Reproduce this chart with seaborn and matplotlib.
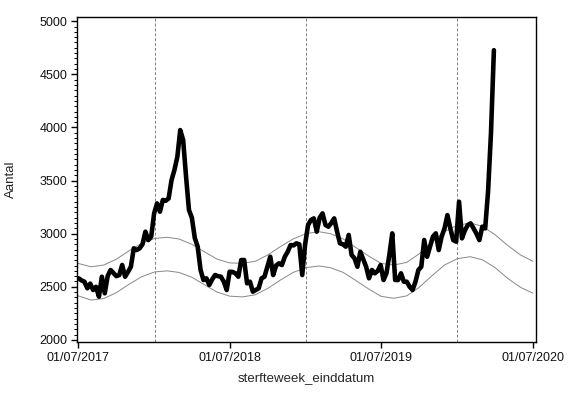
import pandas as pd
import matplotlib
matplotlib.use("Agg")
import matplotlib.pyplot as plt
import matplotlib.dates as mdates
from matplotlib.ticker import MultipleLocator
import seaborn as sns

# weekly deaths, week ending dates starting 2017-07-02
first_week = "2017-07-02"
deaths = [
    2580, 2560, 2548, 2486, 2530, 2470, 2500, 2407, 2595, 2439,
    2600, 2658, 2630, 2600, 2611, 2705, 2595, 2640, 2689, 2862,
    2846, 2862, 2900, 3019, 2940, 2972, 3191, 3285, 3207, 3317,
    3310, 3332, 3505, 3600, 3724, 3975, 3881, 3536, 3223, 3150,
    2960, 2878, 2658, 2564, 2580, 2517, 2570, 2611, 2600, 2595,
    2548, 2470, 2642, 2640, 2627, 2595, 2752, 2752, 2533, 2548,
    2454, 2470, 2486, 2580, 2595, 2689, 2783, 2611, 2700, 2721,
    2705, 2783, 2830, 2893, 2890, 2909, 2900, 2611, 2900, 3080,
    3129, 3144, 3019, 3150, 3191, 3082, 3066, 3100, 3144, 3019,
    2909, 2900, 2878, 2988, 2800, 2768, 2689, 2830, 2760, 2689,
    2580, 2658, 2627, 2650, 2705, 2564, 2627, 2800, 3003, 2564,
    2564, 2627, 2548, 2548, 2500, 2470, 2548, 2658, 2689, 2940,
    2783, 2878, 2972, 3003, 2846, 2972, 3050, 3175, 3050, 2940,
    2925, 3301, 2956, 3030, 3082, 3097, 3050, 3000, 2940, 3066,
    3050, 3400, 3950, 4727,
]

# expected band, read monthly (1st of month) from 2017-07 to 2020-07
band_start = "2017-07-01"
upper = [
    2720, 2688, 2705, 2760, 2840, 2910, 2955, 2966, 2950, 2900,
    2830, 2760, 2725, 2721, 2740, 2800, 2880, 2950, 3000, 3019,
    3000, 2950, 2870, 2790, 2720, 2705, 2730, 2810, 2920, 3020,
    3080, 3100, 3070, 2990, 2890, 2800, 2740,
]
lower = [
    2415, 2375, 2390, 2445, 2525, 2595, 2640, 2650, 2635, 2590,
    2520, 2450, 2412, 2405, 2425, 2485, 2565, 2635, 2680, 2696,
    2680, 2635, 2560, 2480, 2410, 2392, 2415, 2495, 2605, 2705,
    2765, 2783, 2755, 2680, 2580, 2495, 2440,
]
year_marks = ["2018-01-01", "2019-01-01", "2020-01-01"]
tick_dates = ["2017-07-01", "2018-07-01", "2019-07-01", "2020-07-01"]

weekly = pd.DataFrame({
    "sterfteweek_einddatum": pd.date_range(first_week, periods=len(deaths), freq="W"),
    "Aantal": deaths,
})
band = pd.DataFrame({
    "datum": pd.date_range(band_start, periods=len(upper), freq="MS"),
    "upper": upper,
    "lower": lower,
})

sns.set_style("ticks")
plt.rcParams["font.family"] = ["Liberation Sans", "DejaVu Sans"]

fig = plt.figure(figsize=(5.7, 3.99), dpi=100)
ax = fig.add_axes([0.135, 0.143, 0.805, 0.814])

for d in year_marks:
    ax.axvline(pd.Timestamp(d), color="#808080", lw=0.7, ls=(0, (3, 2)), zorder=1)

sns.lineplot(data=band, x="datum", y="upper", ax=ax, color="#888888", lw=0.7)
sns.lineplot(data=band, x="datum", y="lower", ax=ax, color="#888888", lw=0.7)
sns.lineplot(data=weekly, x="sterfteweek_einddatum", y="Aantal", ax=ax,
             color="black", lw=3.3)
ax.lines[-1].set_solid_joinstyle("round")
ax.lines[-1].set_solid_capstyle("round")

ax.set_xlim(pd.Timestamp("2017-06-28"), pd.Timestamp("2020-07-08"))
ax.set_ylim(1981, 5038)
ax.yaxis.set_major_locator(MultipleLocator(500))
ax.yaxis.set_minor_locator(MultipleLocator(50))
ax.set_xticks([pd.Timestamp(d) for d in tick_dates])
ax.xaxis.set_major_formatter(mdates.DateFormatter("%d/%m/%Y"))

for s in ax.spines.values():
    s.set_visible(True)
    s.set_color("black")
    s.set_linewidth(1.0)

ax.tick_params(axis="both", which="major", direction="out", length=4, width=1,
               color="black", labelsize=9, labelcolor="#111111", pad=3)
ax.tick_params(axis="y", which="minor", direction="out", length=2, width=0.7, color="black")

ax.set_xlabel("sterfteweek_einddatum", fontsize=9.5, labelpad=6)
ax.set_ylabel("Aantal", fontsize=9.5, labelpad=16)

fig.savefig("out.png", dpi=100)
